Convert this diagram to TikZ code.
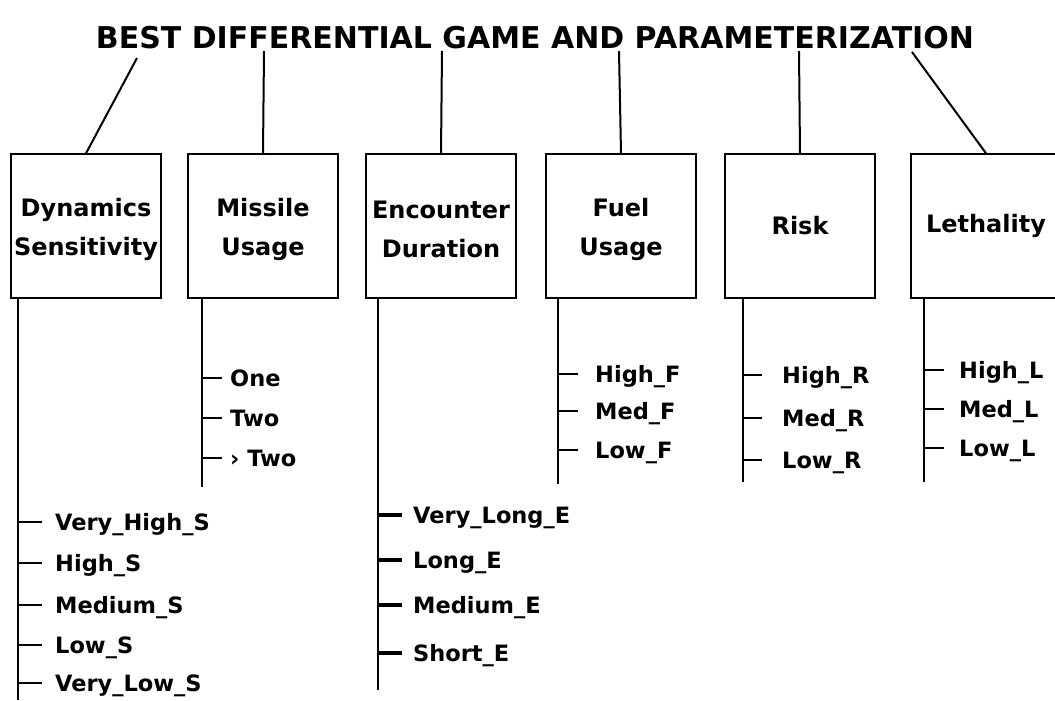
\documentclass[tikz,border=0pt]{standalone}
\usepackage{fontspec}
\setmainfont{DejaVu Sans}
\begin{document}
\begin{tikzpicture}[x=1pt,y=-1pt,
  box/.style={draw, line width=1.4pt, minimum width=150pt, minimum height=144pt, inner sep=0pt},
  boxtext/.style={inner sep=0pt, align=center, font=\fontsize{24}{39}\selectfont\bfseries},
  item/.style={anchor=west, inner sep=0pt, text height=16.4pt, text depth=0pt,
    font=\fontsize{22.5}{22.5}\selectfont\bfseries},
  link/.style={line width=2pt},
  stem/.style={line width=2.4pt},
  tick/.style={line width=2.2pt},
  heavytick/.style={line width=4pt}]
\useasboundingbox (0,0) rectangle (1055,701);

% heading
\node[inner sep=0pt, font=\fontsize{30}{30}\selectfont\bfseries] (title) at (535,38)
  {BEST DIFFERENTIAL GAME AND PARAMETERIZATION};

% attribute boxes
\node[box, label={[boxtext, yshift=-3pt]center:Dynamics\\Sensitivity}] (b1) at (86,226) {};
\node[box, label={[boxtext, yshift=-3pt]center:Missile\\Usage}] (b2) at (263,226) {};
\node[box, label={[boxtext, yshift=-3pt]center:Encounter\\Duration}] (b3) at (441,226) {};
\node[box, label={[boxtext, yshift=-3pt]center:Fuel\\Usage}] (b4) at (621,226) {};
\node[box, label={[boxtext]center:Risk}] (b5) at (800,226) {};
\node[box, label={[boxtext]center:Lethality}] (b6) at (986,226) {};

% links from the heading down to the boxes
\coordinate (t1) at (137,58);
\coordinate (t2) at (264,51);
\coordinate (t3) at (442,51);
\coordinate (t4) at (619,51);
\coordinate (t5) at (799,51);
\coordinate (t6) at (912,52);
\draw[link] (t1) -- (b1.north);
\draw[link] (t2) -- (b2.north);
\draw[link] (t3) -- (b3.north);
\draw[link] (t4) -- (b4.north);
\draw[link] (t5) -- (b5.north);
\draw[link] (t6) -- (b6.north);

% value stems below the boxes
\coordinate (e1) at (18,700);
\coordinate (e2) at (202,487);
\coordinate (e3) at (378,690);
\coordinate (e4) at (558,484);
\coordinate (e5) at (743,482);
\coordinate (e6) at (924,482);
\draw[stem] (b1.south -| e1) -- (e1);
\draw[stem] (b2.south -| e2) -- (e2);
\draw[stem] (b3.south -| e3) -- (e3);
\draw[stem] (b4.south -| e4) -- (e4);
\draw[stem] (b5.south -| e5) -- (e5);
\draw[stem] (b6.south -| e6) -- (e6);

% Dynamics Sensitivity values
\node[item] (d1) at (55,522) {Very\_High\_S};
\node[item] (d2) at (55,563) {High\_S};
\node[item] (d3) at (55,605) {Medium\_S};
\node[item] (d4) at (55,645) {Low\_S};
\node[item] (d5) at (55,683) {Very\_Low\_S};
\foreach \n in {d1,d2,d3,d4,d5} \draw[tick] (\n.west -| e1) -- ++(24,0);

% Missile Usage values
\node[item] (m1) at (230,378) {One};
\node[item] (m2) at (230,418) {Two};
\node[item] (m3) at (230,458) {› Two};
\foreach \n in {m1,m2,m3} \draw[tick] (\n.west -| e2) -- ++(20,0);

% Encounter Duration values
\node[item] (c1) at (413,515) {Very\_Long\_E};
\node[item] (c2) at (413,560) {Long\_E};
\node[item] (c3) at (413,605) {Medium\_E};
\node[item] (c4) at (413,653) {Short\_E};
\foreach \n in {c1,c2,c3,c4} \draw[heavytick] (\n.west -| e3) -- ++(24,0);

% Fuel Usage values
\node[item] (f1) at (595,374) {High\_F};
\node[item] (f2) at (595,411) {Med\_F};
\node[item] (f3) at (595,450) {Low\_F};
\foreach \n in {f1,f2,f3} \draw[tick] (\n.west -| e4) -- ++(20,0);

% Risk values
\node[item] (r1) at (782,375) {High\_R};
\node[item] (r2) at (782,418) {Med\_R};
\node[item] (r3) at (782,460) {Low\_R};
\foreach \n in {r1,r2,r3} \draw[tick] (\n.west -| e5) -- ++(19,0);

% Lethality values
\node[item] (l1) at (959,370) {High\_L};
\node[item] (l2) at (959,409) {Med\_L};
\node[item] (l3) at (959,448) {Low\_L};
\foreach \n in {l1,l2,l3} \draw[tick] (\n.west -| e6) -- ++(20,0);
\end{tikzpicture}
\end{document}
